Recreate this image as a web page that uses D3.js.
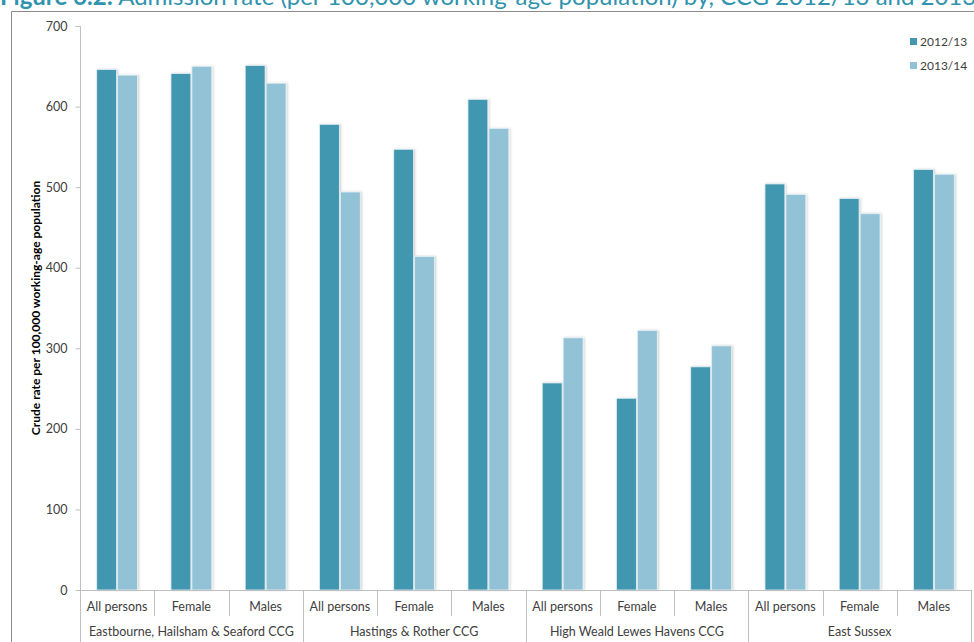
<!DOCTYPE html>
<html>
<head>
<meta charset="utf-8">
<script src="https://cdn.jsdelivr.net/npm/d3@7"></script>
<style>
  html, body { margin: 0; padding: 0; background: #fff; }
  svg { display: block; }
</style>
</head>
<body>
<svg id="chart" width="974" height="642"></svg>
<script>
// Admission rate per 100,000 working-age population, by CCG and sex
const groups = [
  "Eastbourne, Hailsham & Seaford CCG",
  "Hastings & Rother CCG",
  "High Weald Lewes Havens CCG",
  "East Sussex"
];
const subgroups = ["All persons", "Female", "Males"];
const seriesNames = ["2012/13", "2013/14"];
const rate2012 = [646, 641, 651, 578, 547, 609, 257, 238, 277, 504, 486, 522];
const rate2013 = [639, 650, 629, 494, 414, 573, 313, 322, 303, 491, 467, 516];
const yTicks = [0, 100, 200, 300, 400, 500, 600, 700];
const colors = ["#4397b0", "#92c2d5"];

const categories = [];
groups.forEach((g, gi) => subgroups.forEach((s, si) => {
  const i = gi * subgroups.length + si;
  categories.push({ key: g + "|" + s, group: g, sub: s, values: [rate2012[i], rate2013[i]] });
}));

const svg = d3.select("#chart");
const font = "Lato, 'Open Sans', sans-serif";
const plotLeft = 80, plotRight = 971, plotTop = 26, plotBottom = 590;

// Title (runs off the top and right edges of the page)
const title = svg.append("text")
  .attr("x", 0).attr("y", 5)
  .attr("font-family", font).attr("font-size", 24)
  .attr("fill", "#2f93ad");
title.append("tspan").attr("font-weight", "bold").text("Figure 6.2:");
title.append("tspan").text(" Admission rate (per 100,000 working-age population) by, CCG 2012/13 and 2013/14");

// Chart frame
svg.append("path")
  .attr("d", `M11.5,642 V11.5 H974`)
  .attr("fill", "none").attr("stroke", "#8c8c8c").attr("stroke-width", 1);

const x0 = d3.scaleBand().domain(categories.map(d => d.key)).range([plotLeft, plotRight]).paddingInner(0).paddingOuter(0);
const bw = x0.bandwidth();
const x1 = d3.scaleBand().domain(seriesNames).range([bw * 0.225, bw * 0.775]).paddingInner(0.05);
const y = d3.scaleLinear().domain([0, 700]).range([plotBottom, plotTop]);

// Y axis
const yAxis = d3.axisLeft(y).tickValues(yTicks).tickSize(5).tickPadding(8);
const gy = svg.append("g").attr("transform", `translate(${plotLeft + 0.5},0)`).call(yAxis);
gy.select(".domain").attr("stroke", "#bfbfbf").attr("d", `M-5,${plotTop + 0.5}H0V${plotBottom}`);
gy.selectAll(".tick line").attr("stroke", "#bfbfbf");
gy.selectAll(".tick text").attr("font-family", font).attr("font-size", 12.5).attr("fill", "#404040");

// Y axis title
svg.append("text")
  .attr("transform", `translate(40,${(plotTop + plotBottom) / 2}) rotate(-90)`)
  .attr("text-anchor", "middle")
  .attr("font-family", font).attr("font-size", 12).attr("font-weight", "bold").attr("fill", "#000")
  .text("Crude rate per 100,000 working-age population");

// Bars
const defs = svg.append("defs");
const f = defs.append("filter").attr("id", "shadow").attr("x", "-20%").attr("y", "-5%").attr("width", "150%").attr("height", "110%");
f.append("feDropShadow").attr("dx", 1.2).attr("dy", 0).attr("stdDeviation", 0.8).attr("flood-color", "#000").attr("flood-opacity", 0.18);

const catG = svg.append("g").selectAll("g").data(categories).join("g")
  .attr("transform", d => `translate(${x0(d.key)},0)`);
catG.selectAll("rect").data(d => d.values.map((v, i) => ({ v, s: seriesNames[i], i })))
  .join("rect")
  .attr("x", d => x1(d.s))
  .attr("y", d => y(d.v))
  .attr("width", x1.bandwidth())
  .attr("height", d => y(0) - y(d.v))
  .attr("fill", d => colors[d.i])
  .attr("stroke", "#e6f1f5").attr("stroke-width", 0.8)
  .attr("filter", "url(#shadow)");

// X axis baseline
svg.append("line").attr("x1", plotLeft).attr("x2", plotRight).attr("y1", plotBottom + 0.5).attr("y2", plotBottom + 0.5)
  .attr("stroke", "#bfbfbf");

// Category separators: short between subgroups, full height between groups
categories.forEach((d, i) => {
  const xx = Math.round(x0(d.key)) + 0.5;
  const isGroupStart = i % subgroups.length === 0;
  svg.append("line").attr("x1", xx).attr("x2", xx)
    .attr("y1", plotBottom).attr("y2", isGroupStart ? 642 : 616)
    .attr("stroke", "#bfbfbf");
});
svg.append("line").attr("x1", Math.round(plotRight) + 0.5).attr("x2", Math.round(plotRight) + 0.5)
  .attr("y1", plotBottom).attr("y2", 642).attr("stroke", "#bfbfbf");

// Subgroup labels
svg.append("g").selectAll("text").data(categories).join("text")
  .attr("x", d => x0(d.key) + bw / 2).attr("y", 611)
  .attr("text-anchor", "middle")
  .attr("font-family", font).attr("font-size", 12.5).attr("fill", "#404040")
  .text(d => d.sub);

// Group labels
svg.append("g").selectAll("text").data(groups).join("text")
  .attr("x", (g, gi) => plotLeft + bw * subgroups.length * (gi + 0.5)).attr("y", 636)
  .attr("text-anchor", "middle")
  .attr("font-family", font).attr("font-size", 12.5).attr("fill", "#404040")
  .text(g => g);

// Legend
const legend = svg.append("g").selectAll("g").data(seriesNames).join("g")
  .attr("transform", (d, i) => `translate(910,${42 + i * 24})`);
legend.append("rect").attr("x", 0).attr("y", -4).attr("width", 7).attr("height", 7)
  .attr("fill", (d, i) => colors[i]);
legend.append("text").attr("x", 10).attr("y", 4)
  .attr("font-family", font).attr("font-size", 12).attr("fill", "#404040")
  .text(d => d);
</script>
</body>
</html>
